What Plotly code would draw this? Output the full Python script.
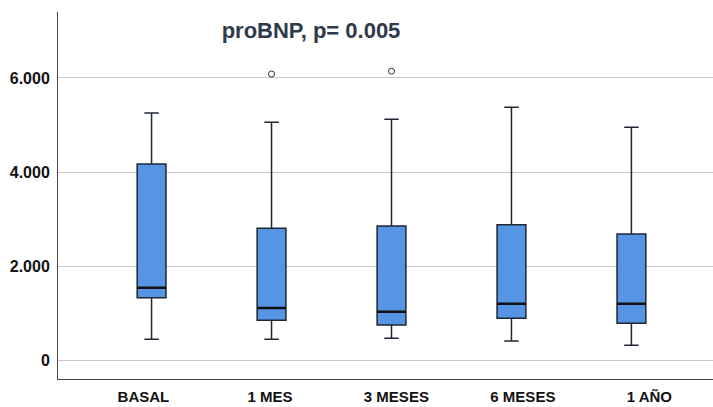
import plotly.graph_objects as go

categories = ["BASAL", "1 MES", "3 MESES", "6 MESES", "1 AÑO"]
lower_whisker = [440, 440, 462, 404, 313]
q1_values = [1325, 844, 745, 887, 781]
medians = [1538, 1106, 1028, 1198, 1198]
q3_values = [4170, 2801, 2851, 2879, 2681]
upper_whisker = [5255, 5057, 5120, 5376, 4950]
outlier_cats = ["1 MES", "3 MESES"]
outlier_vals = [6085, 6145]
y_tickvals = [0, 2000, 4000, 6000]
y_ticktext = ["0", "2.000", "4.000", "6.000"]

fig = go.Figure()
fig.add_trace(go.Box(
    x=categories,
    q1=q1_values, median=medians, q3=q3_values,
    lowerfence=lower_whisker, upperfence=upper_whisker,
    fillcolor="#5595E3",
    line=dict(color="#1E2733", width=1.5),
    width=0.24, whiskerwidth=0.5,
    boxpoints=False, showlegend=False, hoverinfo="skip",
))
# thicker median lines
fig.add_trace(go.Box(
    x=categories,
    q1=medians, median=medians, q3=medians,
    lowerfence=medians, upperfence=medians,
    fillcolor="rgba(0,0,0,0)",
    line=dict(color="#111111", width=2.5),
    width=0.24, whiskerwidth=0,
    boxpoints=False, showlegend=False, hoverinfo="skip",
))
fig.add_trace(go.Scatter(
    x=outlier_cats, y=outlier_vals, mode="markers",
    marker=dict(symbol="circle-open", size=6, color="#333333", line=dict(width=1)),
    showlegend=False, hoverinfo="skip",
))
# invisible trace carrying the (slightly shifted) category label axis
fig.add_trace(go.Scatter(
    x=categories, y=medians, xaxis="x2", mode="markers",
    marker=dict(opacity=0), showlegend=False, hoverinfo="skip",
))

label_font = dict(size=15, family="Liberation Sans, Arial", weight="bold", color="#111111")
fig.update_layout(
    width=713, height=407,
    boxmode="overlay",
    margin=dict(l=58, r=0, t=12, b=28),
    paper_bgcolor="white", plot_bgcolor="white",
    font=dict(family="Liberation Sans, Arial", color="#111111"),
    title=dict(text="<b>proBNP, p= 0.005</b>", x=311/713, xanchor="center",
               y=1-30/407, yanchor="middle",
               font=dict(size=22, color="#2F3A4B", family="Liberation Sans, Arial")),
    xaxis=dict(type="category", categoryorder="array", categoryarray=categories,
               range=[-0.78, 4.68], showgrid=False, showline=True,
               linecolor="#444444", linewidth=1, ticks="",
               showticklabels=False, zeroline=False),
    xaxis2=dict(type="category", categoryorder="array", categoryarray=categories,
                overlaying="x", side="bottom", anchor="y",
                range=[-0.675, 4.503], showgrid=False, showline=False, ticks="",
                tickfont=label_font, ticklabelstandoff=7, zeroline=False),
    yaxis=dict(range=[-404, 7404], tickvals=y_tickvals, ticktext=y_ticktext,
               showgrid=True, gridcolor="#C8C8C8", gridwidth=1,
               showline=True, linecolor="#444444", linewidth=1, ticks="",
               tickfont=dict(size=16, family="Liberation Sans, Arial", weight="bold"),
               ticklabelstandoff=4, zeroline=False),
)

fig.write_html("out.html")
